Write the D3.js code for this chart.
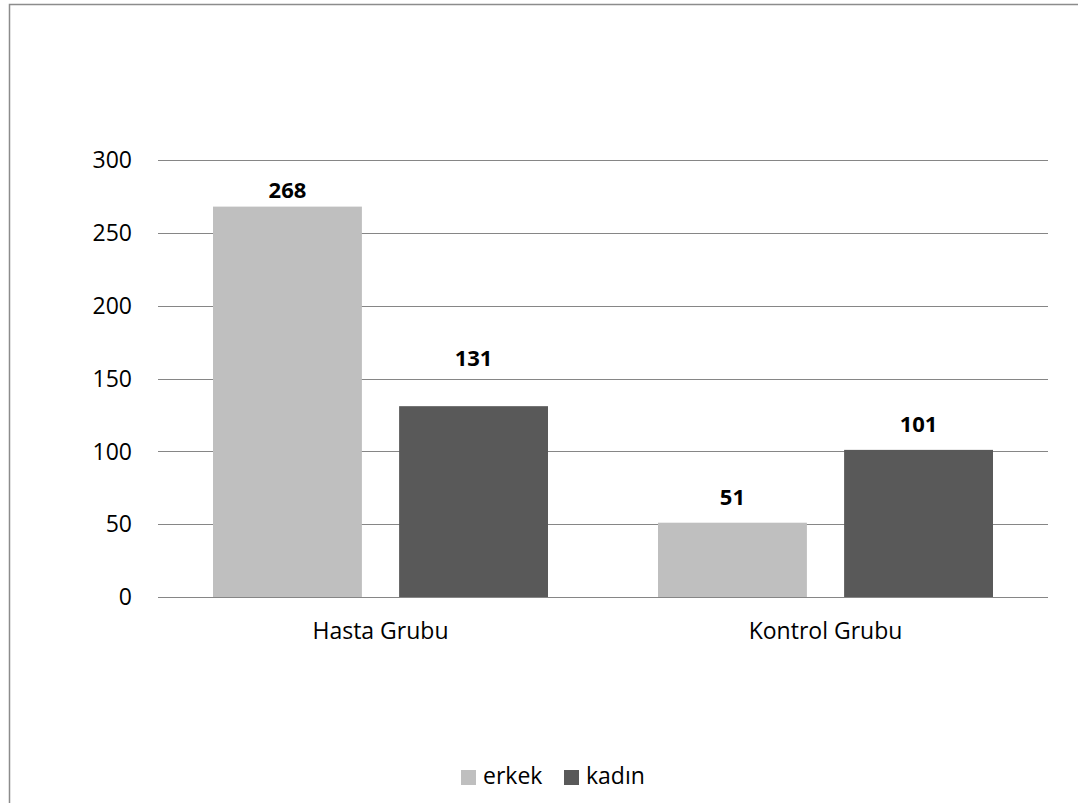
<!DOCTYPE html>
<html><head><meta charset="utf-8">
<script src="https://cdn.jsdelivr.net/npm/d3@7"></script>
<style>body{margin:0;background:#fff}svg{display:block}</style>
</head><body>
<svg id="c" width="1078" height="803"></svg>
<script>
const categories = ["Hasta Grubu", "Kontrol Grubu"];
const seriesNames = ["erkek", "kadın"];
const erkek = [268, 51];
const kadin = [131, 101];
const yTicks = [0, 50, 100, 150, 200, 250, 300];
const colors = ["#bfbfbf", "#595959"];

(function () {
const svg = d3.select("#c");
const font = "'Open Sans', sans-serif";
// label gap above bar top, per [category][series]
const labelGap = [[9, 40], [18, 18]];

// frame
svg.append("rect").attr("x", 9.5).attr("y", 4.5).attr("width", 1200).attr("height", 1000)
  .attr("fill", "none").attr("stroke", "#8c8c8c").attr("stroke-width", 1.5);

const pLeft = 158, pRight = 1048, pTop = 160, pBottom = 597;
const x0 = d3.scaleBand().domain(categories).range([pLeft, pRight]).paddingInner(0).paddingOuter(0);
const x1 = d3.scaleBand().domain(seriesNames).range([55, 445 - 55]).paddingInner(0.2).paddingOuter(0);
const y = d3.scaleLinear().domain([0, 300]).range([pBottom, pTop]);

// gridlines
svg.append("g").selectAll("line").data(yTicks).join("line")
  .attr("x1", pLeft).attr("x2", pRight)
  .attr("y1", d => Math.round(y(d)) + 0.5).attr("y2", d => Math.round(y(d)) + 0.5)
  .attr("stroke", "#868686").attr("stroke-width", 1);

// y axis labels
const yAxis = d3.axisLeft(y).tickValues(yTicks).tickSize(0).tickPadding(0);
const ya = svg.append("g").attr("transform", `translate(${132},0)`).call(yAxis);
ya.select(".domain").remove();
ya.selectAll("text").attr("font-family", font).attr("font-size", 23).attr("fill", "#000").attr("dy", "0.34em");

const data = categories.map((c, i) => ({cat: c, i, vals: [erkek[i], kadin[i]]}));

const groups = svg.append("g").selectAll("g").data(data).join("g")
  .attr("transform", d => `translate(${x0(d.cat)},0)`);

groups.selectAll("rect").data(d => d.vals.map((v, j) => ({s: seriesNames[j], v, j, i: d.i})))
  .join("rect")
  .attr("x", d => x1(d.s)).attr("width", x1.bandwidth())
  .attr("y", d => y(d.v)).attr("height", d => y(0) - y(d.v))
  .attr("fill", d => colors[d.j]);

groups.selectAll("text").data(d => d.vals.map((v, j) => ({s: seriesNames[j], v, j, i: d.i})))
  .join("text")
  .attr("x", d => x1(d.s) + x1.bandwidth() / 2)
  .attr("y", d => y(d.v) - labelGap[d.i][d.j])
  .attr("text-anchor", "middle")
  .attr("font-family", font).attr("font-size", 22).attr("font-weight", "bold")
  .text(d => d.v);

// baseline
svg.append("line").attr("x1", pLeft).attr("x2", pRight)
  .attr("y1", Math.round(y(0)) + 0.5).attr("y2", Math.round(y(0)) + 0.5)
  .attr("stroke", "#868686");

// x axis labels
const xAxis = d3.axisBottom(x0).tickSize(0).tickPadding(0);
const xa = svg.append("g").attr("transform", `translate(0,${pBottom + 42})`).call(xAxis);
xa.select(".domain").remove();
xa.selectAll("text").attr("font-family", font).attr("font-size", 23).attr("fill", "#000").attr("dy", 0);

// legend
const legendPos = [461, 564];
const lg = svg.append("g").selectAll("g").data(seriesNames).join("g")
  .attr("transform", (d, i) => `translate(${legendPos[i]},770)`);
lg.append("rect").attr("width", 15).attr("height", 15).attr("fill", (d, i) => colors[i]);
lg.append("text").attr("x", 22).attr("y", 14).attr("font-family", font).attr("font-size", 23)
  .attr("fill", "#000").text(d => d);
})();
</script>
</body></html>
